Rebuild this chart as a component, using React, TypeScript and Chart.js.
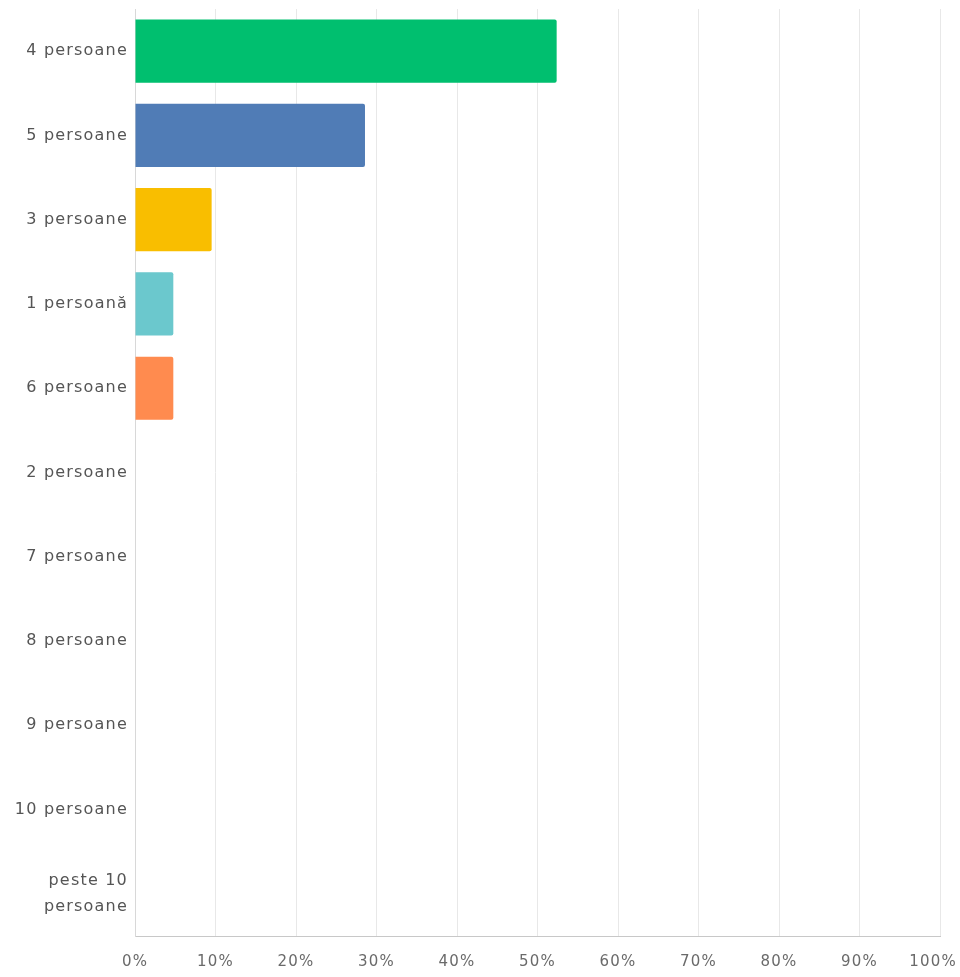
import React, { useEffect, useRef } from "react";
import { Chart, registerables } from "chart.js";

Chart.register(...registerables);

const categories: (string | string[])[] = [
  "4 persoane",
  "5 persoane",
  "3 persoane",
  "1 persoană",
  "6 persoane",
  "2 persoane",
  "7 persoane",
  "8 persoane",
  "9 persoane",
  "10 persoane",
  ["peste 10", "persoane"],
];
const percentages = [52.38, 28.57, 9.52, 4.76, 4.76, 0, 0, 0, 0, 0, 0];
const barColors = [
  "#00BF6F",
  "#507CB6",
  "#F9BE00",
  "#6BC8CD",
  "#FF8B4F",
  "#00BF6F",
  "#507CB6",
  "#F9BE00",
  "#6BC8CD",
  "#FF8B4F",
  "#00BF6F",
];
const xTicks = [0, 10, 20, 30, 40, 50, 60, 70, 80, 90, 100];

const spacingPlugin = {
  id: "letterSpacing",
  beforeUpdate(chart: any) {
    (chart.ctx as any).letterSpacing = "1.2px";
  },
  beforeDraw(chart: any) {
    (chart.ctx as any).letterSpacing = "1.2px";
    const xs = chart.scales.x;
    const items = xs.getLabelItems(chart.chartArea);
    const last = items[items.length - 1];
    if (last && last.options) {
      last.options.textAlign = "right";
      last.options.translation[0] = 957;
    }
  },
};

export default function App() {
  const ref = useRef<HTMLCanvasElement | null>(null);
  useEffect(() => {
    if (!ref.current) return;
    const chart = new Chart(ref.current, {
      type: "bar",
      plugins: [spacingPlugin],
      data: {
        labels: categories,
        datasets: [
          {
            data: percentages,
            backgroundColor: barColors,
            categoryPercentage: 0.75,
            barPercentage: 1,
            borderRadius: 2,
          },
        ],
      },
      options: {
        indexAxis: "y",
        animation: false,
        responsive: false,
        maintainAspectRatio: false,
        layout: { padding: { top: 9, right: 20, left: 0, bottom: 0 } },
        plugins: { legend: { display: false }, tooltip: { enabled: false } },
        scales: {
          x: {
            min: 0,
            max: 100,
            afterBuildTicks: (scale: any) => {
              scale.ticks = xTicks.map((v) => ({ value: v }));
            },
            afterFit: (scale: any) => {
              scale.height = 41;
              scale.paddingLeft = 0;
              scale.paddingRight = 0;
            },
            ticks: {
              callback: (v: any) => v + "%",
              color: "#6a6a6a",
              font: { family: "DejaVu Sans", size: 15 },
              padding: 17,
              maxRotation: 0,
            },
            grid: { color: "#e8e8e8", drawTicks: false },
            border: { color: "#c8c8c8" },
          },
          y: {
            afterFit: (scale: any) => {
              scale.width = 135;
              scale.paddingTop = 0;
              scale.paddingBottom = 0;
            },
            ticks: {
              color: "#555",
              font: { family: "DejaVu Sans", size: 16, lineHeight: 1.6 },
              padding: 7,
            },
            grid: { display: false, drawTicks: false },
            border: { color: "#d8d8d8" },
          },
        },
      },
    });
    return () => chart.destroy();
  }, []);
  return (
    <div style={{ position: "absolute", left: 0, top: 0, width: 960, height: 977, background: "#fff" }}>
      <canvas ref={ref} width={960} height={977} />
    </div>
  );
}
